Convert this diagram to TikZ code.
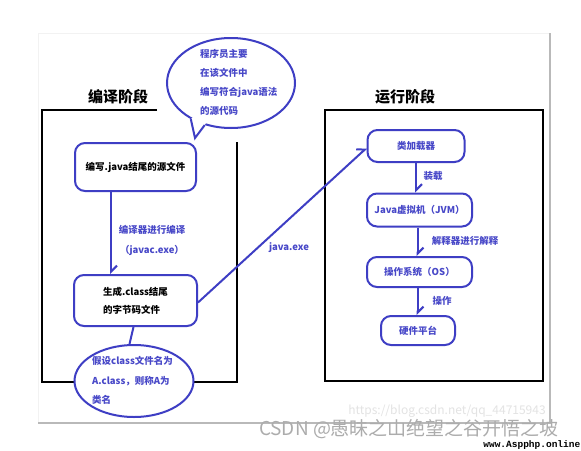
\documentclass[tikz,border=0pt]{standalone}
\usepackage{fontspec}
\setmainfont{Noto Sans CJK SC}
\newfontfamily\wmmono{Liberation Mono}
\usetikzlibrary{shapes.geometric,arrows.meta,calc}
\definecolor{lineblue}{RGB}{62,62,196}
\definecolor{textblue}{RGB}{72,72,200}
\tikzset{
  box/.style={draw=lineblue, line width=2pt, rounded corners=10pt, inner sep=0pt},
  blab/.style={text=textblue, font=\fontsize{9.5}{12}\selectfont\bfseries, inner sep=0pt},
  klab/.style={text=black, font=\fontsize{9.5}{12}\selectfont\bfseries, inner sep=0pt},
  title/.style={text=black, font=\fontsize{15}{18}\selectfont\bfseries, inner sep=0pt},
  flow/.style={draw=lineblue, line width=2pt, -{Straight Barb[left,length=6pt,width=12pt,line width=2pt]}},
  conn/.style={draw=lineblue, line width=2pt},
  frame/.style={draw=black, line width=2.5pt},
}
\begin{document}
\begin{tikzpicture}[x=1pt,y=-1pt]
\useasboundingbox[fill=white] (0,0) rectangle (581,450);
% paper
\draw[gray!10, line width=1pt] (38,422) -- (38,33) -- (550,33);
\draw[gray!55, line width=2pt] (550,33) -- (550,423) -- (38,423);
% titles
\node[title] (t1) at (118,97) {编译阶段};
\node[title] (t2) at (405,97) {运行阶段};
% left frame
\coordinate (lf1) at (157,110);
\coordinate (lf2) at (42,110);
\coordinate (lf3) at (42,382);
\coordinate (lf4) at (237,382);
\coordinate (lf5) at (237,142);
\draw[frame] (lf1) -- (lf2) -- (lf3) -- (lf4) -- (lf5);
% right frame
\node[frame, minimum width=218pt, minimum height=271pt, inner sep=0pt] (rf) at (434,245.5) {};
% speech bubble
\node[ellipse, draw=lineblue, line width=2pt, fill=white, minimum width=128pt, minimum height=90pt] (bub) at (231,83) {};
\coordinate (tip) at (195,138);
\fill[white] (bub.222) -- (tip) -- (bub.238) -- ($(bub.238)!0.12!(bub.center)$) -- ($(bub.222)!0.12!(bub.center)$) -- cycle;
\draw[conn, line join=miter] (bub.222) -- (tip) -- (bub.238);
\node[blab, anchor=west, align=left, font=\fontsize{9.5}{19}\selectfont\bfseries] (bubtxt) at (200,82.5) {程序员主要\\在该文件中\\编写符合java语法\\的源代码};
% left nodes
\node[box, minimum width=121pt, minimum height=48pt] (src) at (135.5,167) {};
\node[klab] (srctxt) at (src.center) {编写.java结尾的源文件};
\node[box, minimum width=123pt, minimum height=51pt] (cls) at (135.5,300.5) {};
\node[klab, align=left, font=\fontsize{9.5}{18}\selectfont\bfseries] (clstxt) at (cls.center) {生成.class结尾\\的字节码文件};
\node[ellipse, draw=lineblue, line width=2pt, fill=white, minimum width=119pt, minimum height=72pt, inner sep=0pt] (el) at (134,381) {};
\node[blab, align=left, anchor=west, font=\fontsize{9.5}{19.5}\selectfont\bfseries] (eltxt) at (92,380.5) {假设class文件名为\\A.class，则称A为\\类名};
% left connectors
\draw[flow] ([xshift=-24.5pt]src.south) -- ([xshift=-24.5pt]src.south |- cls.north);
\node[blab] (l1) at (152,230) {编译器进行编译};
\node[blab] (l2) at (152,250) {（javac.exe）};
\draw[conn] ([xshift=-2pt]cls.south) -- (el.97);
% right nodes
\node[box, minimum width=97pt, minimum height=32pt] (cl) at (416,146) {};
\node[blab] (cltxt) at (cl.center) {类加载器};
\node[box, minimum width=105pt, minimum height=33pt] (jvm) at (419.5,210) {};
\node[blab] (jvmtxt) at (jvm.center) {Java虚拟机（JVM）};
\node[box, minimum width=105pt, minimum height=30pt] (os) at (419.5,272) {};
\node[blab] (ostxt) at (os.center) {操作系统（OS）};
\node[box, minimum width=74pt, minimum height=29pt] (hw) at (418,330.5) {};
\node[blab] (hwtxt) at (hw.center) {硬件平台};
% right connectors
\draw[flow] (cl.south) -- (cl.south |- jvm.north);
\node[blab] (r1) at (433,176) {装载};
\draw[flow] ([xshift=-2pt]jvm.south) -- ([xshift=-2pt]jvm.south |- os.north);
\node[blab] (r2) at (465,241) {解释器进行解释};
\draw[flow] ([xshift=-2pt]os.south) -- ([xshift=-2pt]os.south |- hw.north);
\node[blab] (r3) at (442,301) {操作};
% java.exe
\draw[flow] ([yshift=-2pt]cls.east) -- ([yshift=-2pt]cl.west);
\node[blab] (jx) at (289,248) {java.exe};
% watermarks
\node[text=gray!22, font=\fontsize{12}{14}\selectfont, inner sep=0pt] (wm1) at (447,411) {https://blog.csdn.net/qq\_44715943};
\node[text=gray!65, font=\fontsize{19}{22}\selectfont, inner sep=0pt] (wm2) at (409,429) {CSDN @愚昧之山绝望之谷开悟之坡};
\node[fill=white, text=black, font=\wmmono\fontsize{9.5}{11}\selectfont\bfseries, inner sep=0.5pt, anchor=east] (wm3) at (581,445.5) {www.Aspphp.online};
\end{tikzpicture}
\end{document}
